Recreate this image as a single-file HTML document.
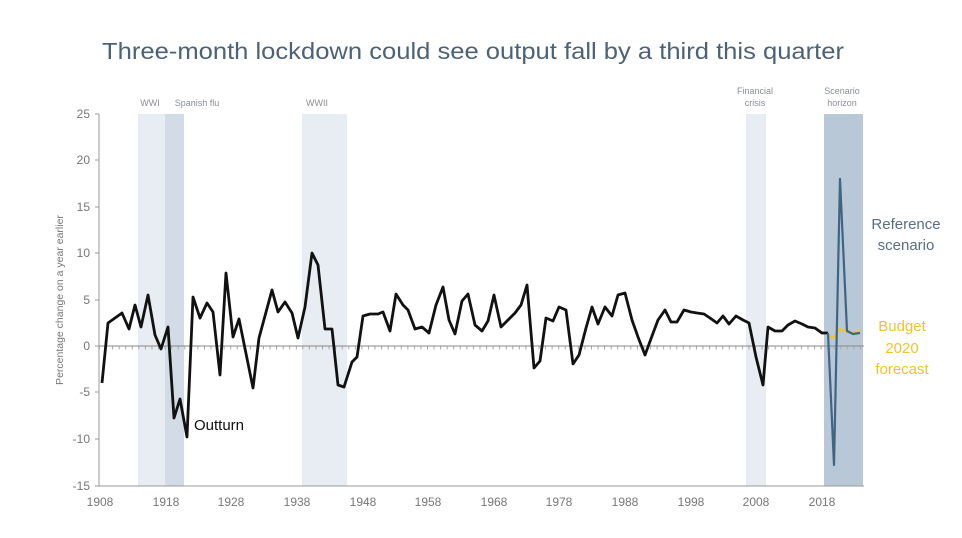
<!DOCTYPE html>
<html><head><meta charset="utf-8"><style>
html,body{margin:0;padding:0;background:#fff;}
svg{display:block;font-family:"Liberation Sans",sans-serif;}
</style></head><body>
<svg width="962" height="538" viewBox="0 0 962 538" xmlns="http://www.w3.org/2000/svg">
<rect width="962" height="538" fill="#fff"/>
<text x="102" y="59" font-size="23" fill="#4d6277" textLength="742" lengthAdjust="spacingAndGlyphs">Three-month lockdown could see output fall by a third this quarter</text>
<!-- bands -->
<rect x="138" y="114" width="27" height="372" fill="#e8edf3"/>
<rect x="165" y="114" width="19" height="372" fill="#d3dbe6"/>
<rect x="302" y="114" width="45" height="372" fill="#e8edf3"/>
<rect x="746" y="114" width="20" height="372" fill="#e8edf3"/>
<rect x="824" y="114" width="39" height="372" fill="#b9c8d7"/>
<g font-size="9" fill="#8a8f96" text-anchor="middle">
<text x="150" y="106">WWI</text><text x="197" y="106">Spanish flu</text>
<text x="317" y="106">WWII</text>
<text x="755" y="94">Financial</text><text x="755" y="106">crisis</text>
<text x="842" y="94">Scenario</text><text x="842" y="106">horizon</text>
</g>
<!-- axes -->
<line x1="99" y1="114" x2="99" y2="486" stroke="#999" stroke-width="1"/>
<line x1="99" y1="486" x2="864" y2="486" stroke="#999" stroke-width="1"/>
<line x1="99" y1="346" x2="864" y2="346" stroke="#888" stroke-width="1"/>
<g stroke="#999" stroke-width="1">
<line x1="95" y1="114" x2="99" y2="114"/><line x1="95" y1="160" x2="99" y2="160"/><line x1="95" y1="207" x2="99" y2="207"/><line x1="95" y1="253" x2="99" y2="253"/><line x1="95" y1="300" x2="99" y2="300"/><line x1="95" y1="346" x2="99" y2="346"/><line x1="95" y1="392" x2="99" y2="392"/><line x1="95" y1="439" x2="99" y2="439"/><line x1="95" y1="486" x2="99" y2="486"/>
</g>
<path d="M99 346 H864" stroke="#aaa" stroke-width="3" stroke-dasharray="1 5.56" transform="translate(0,2)"/>
<g font-size="12" fill="#777" text-anchor="end">
<text x="90" y="118">25</text><text x="90" y="164">20</text><text x="90" y="211">15</text><text x="90" y="257">10</text><text x="90" y="304">5</text><text x="90" y="350">0</text><text x="90" y="396">-5</text><text x="90" y="443">-10</text><text x="90" y="490">-15</text>
</g>
<g font-size="12" fill="#777" text-anchor="middle">
<text x="100" y="506">1908</text><text x="166" y="506">1918</text><text x="231" y="506">1928</text><text x="297" y="506">1938</text><text x="363" y="506">1948</text><text x="428" y="506">1958</text><text x="494" y="506">1968</text><text x="559" y="506">1978</text><text x="625" y="506">1988</text><text x="691" y="506">1998</text><text x="756" y="506">2008</text><text x="822" y="506">2018</text>
</g>
<text transform="translate(63,300) rotate(-90)" font-size="10.5" fill="#777" text-anchor="middle">Percentage change on a year earlier</text>
<polyline fill="none" stroke="#111" stroke-width="2.8" stroke-linejoin="round" points="102,383 108,323 115,318 122,313 129,329 135,305 141,327 148,295 155,335 161,349 168,327 174,418 180,399 187,437 193,297 200,318 207,303 213,312 220,375 226,273 233,337 239,319 253,388 259,338 272,290 278,312 285,302 292,313 298,338 305,307 312,253 318,265 325,329 332,329 338,385 344,387 352,362 357,357 363,316 370,314 378,314 383,312 390,331 396,294 403,305 408,310 415,329 422,327 429,333 436,305 443,287 449,320 455,334 462,301 468,294 475,325 482,331 488,321 494,295 501,327 508,320 515,313 521,305 527,285 534,368 540,361 546,318 553,321 559,307 566,310 573,364 579,355 586,328 592,307 598,324 605,307 612,316 618,295 625,293 632,320 638,337 645,355 652,336 658,320 665,310 671,322 677,322 684,310 691,312 697,313 704,314 710,318 717,323 723,316 729,324 736,316 743,320 749,323 756,357 763,385 768,327 775,331 782,331 788,325 795,321 802,324 808,327 815,328 822,333 828,333"/>
<polyline fill="none" stroke="#f0c330" stroke-width="2.2" points="828,335 834,338 840,329 847,332 853,333 860,331"/>
<polyline fill="none" stroke="#3e6584" stroke-width="2.2" stroke-linejoin="round" points="828,333 834,465 840,179 847,331 853,334 860,333"/>
<text x="194" y="430" font-size="15" fill="#111">Outturn</text>
<g font-size="15" fill="#5a6f84" text-anchor="middle"><text x="906" y="229">Reference</text><text x="906" y="250">scenario</text></g>
<g font-size="15" fill="#f0c330" text-anchor="middle"><text x="902" y="331">Budget</text><text x="902" y="353">2020</text><text x="902" y="374">forecast</text></g>
</svg>
</body></html>
